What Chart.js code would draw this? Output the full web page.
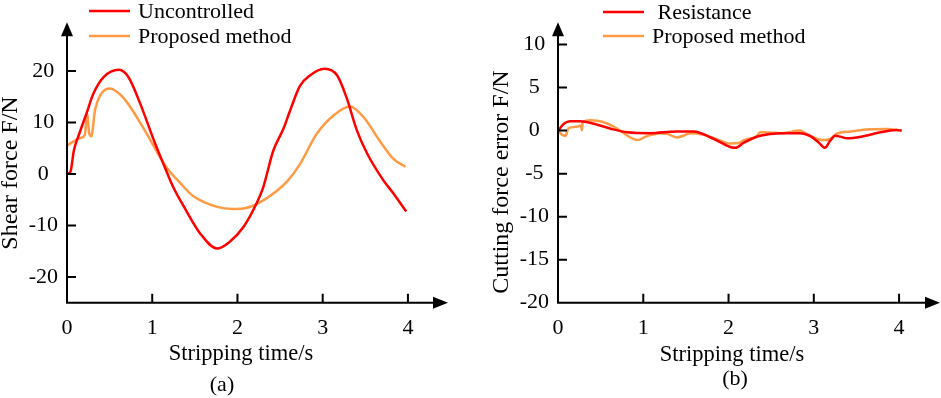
<!DOCTYPE html>
<html>
<head>
<meta charset="utf-8">
<script src="https://cdn.jsdelivr.net/npm/chart.js@4.4.0/dist/chart.umd.min.js"></script>
<style>
  html, body { margin: 0; padding: 0; background: #fff; width: 941px; height: 398px; overflow: hidden; }
  .painel { position: absolute; top: 0; height: 398px; }
  #pa { left: 0; width: 470px; }
  #pb { left: 470px; width: 471px; }
</style>
</head>
<body>
<div class="painel" id="pa"><canvas id="ga" width="470" height="398"></canvas></div>
<div class="painel" id="pb"><canvas id="gb" width="471" height="398"></canvas></div>
<script>
const FONTE = "'Liberation Serif', 'Times New Roman', serif";
const VERMELHO = '#ff0000';
const LARANJA = '#ff9a45';

// eixo x comum (s)
const TEMPO_TICKS = [0, 1, 2, 3, 4];

// (a) forca de cisalhamento
const CIS_Y_TICKS = [-20, -10, 0, 10, 20];
const semControleT = [0, 0.04, 0.08, 0.14, 0.23, 0.31, 0.43, 0.61, 0.72, 0.86, 1.02, 1.13, 1.25, 1.37, 1.56, 1.76, 1.9, 2.07, 2.23, 2.3, 2.42, 2.54, 2.62, 2.73, 2.85, 3.02, 3.17, 3.28, 3.4, 3.52, 3.71, 3.83, 3.98];
const semControleV = [0, 0.4, 4.5, 7.6, 11.8, 15.6, 18.8, 20.2, 18.8, 13.6, 6.5, 2, -2.7, -6.3, -11.5, -14.5, -13.3, -10.3, -5.5, -2.7, 4.5, 8.8, 12.4, 17, 19.1, 20.4, 19.1, 14.8, 8.5, 4, -1.2, -3.8, -7.3];
const propostoAT = [0, 0.08, 0.16, 0.21, 0.235, 0.26, 0.285, 0.33, 0.39, 0.5, 0.66, 0.9, 1.09, 1.17, 1.33, 1.48, 1.76, 1.95, 2.1, 2.23, 2.46, 2.58, 2.73, 2.93, 3.13, 3.32, 3.48, 3.67, 3.83, 3.97];
const propostoAV = [5.5, 6.3, 7, 7.6, 11.8, 8, 7.3, 12.5, 15.3, 16.6, 14.8, 8.8, 3.3, 1.2, -1.8, -4.3, -6.4, -6.8, -6.6, -5.8, -3.3, -1.5, 1.8, 7.8, 11.4, 13.1, 11, 6.4, 2.9, 1.4];

// (b) erro da forca de corte
const ERRO_Y_TICKS = [-20, -15, -10, -5, 0, 5, 10];
const resistenciaT = [0, 0.07, 0.14, 0.26, 0.42, 0.61, 0.81, 1.08, 1.39, 1.59, 1.79, 2.02, 2.08, 2.18, 2.37, 2.61, 2.84, 2.96, 3.06, 3.13, 3.19, 3.25, 3.31, 3.39, 3.58, 3.78, 3.97, 4.03];
const resistenciaV = [0, 0.8, 1.1, 1.1, 0.8, 0.25, -0.2, -0.3, -0.1, -0.1, -0.8, -1.9, -2.0, -1.4, -0.6, -0.3, -0.3, -0.65, -1.4, -2.0, -1.2, -0.6, -0.7, -0.9, -0.65, -0.2, 0.07, 0];
const propostoBT = [0, 0.05, 0.09, 0.12, 0.22, 0.27, 0.28, 0.29, 0.38, 0.53, 0.69, 0.85, 0.93, 1.04, 1.2, 1.28, 1.39, 1.47, 1.55, 1.71, 1.86, 2.02, 2.12, 2.18, 2.33, 2.37, 2.41, 2.61, 2.84, 2.88, 3.0, 3.11, 3.19, 3.27, 3.43, 3.66, 3.86, 4.03];
const propostoBV = [0, -0.5, -0.6, 0.25, 0.45, 0.6, 0.05, 1.0, 1.2, 1.0, 0.25, -0.8, -1.1, -0.65, -0.3, -0.36, -0.8, -0.6, -0.3, -0.47, -1.0, -1.5, -1.45, -1.1, -0.65, -0.2, -0.2, -0.3, 0, -0.2, -0.8, -1.1, -1.0, -0.36, -0.1, 0.15, 0.2, 0];

function pontos(ts, vs) { return ts.map((t, i) => ({ x: t, y: vs[i] })); }

// eixos com seta, ticks para dentro, legenda e titulos
const desenhoEixos = {
  id: 'desenhoEixos',
  afterDraw(chart, args, o) {
    const { ctx, chartArea: a, scales: { x, y } } = chart;
    const x0 = x.getPixelForValue(0), y0 = y.getPixelForValue(y.min);
    ctx.save();
    ctx.strokeStyle = '#000'; ctx.fillStyle = '#000'; ctx.lineWidth = 2;
    ctx.beginPath();
    ctx.moveTo(x0, y0); ctx.lineTo(x0, a.top + 12);
    ctx.moveTo(x0 - 1, y0); ctx.lineTo(a.right - 12, y0);
    ctx.stroke();
    ctx.beginPath(); ctx.moveTo(x0, a.top); ctx.lineTo(x0 - 6, a.top + 14); ctx.lineTo(x0 + 6, a.top + 14); ctx.closePath(); ctx.fill();
    ctx.beginPath(); ctx.moveTo(a.right, y0); ctx.lineTo(a.right - 15, y0 - 6); ctx.lineTo(a.right - 15, y0 + 6); ctx.closePath(); ctx.fill();
    ctx.beginPath();
    x.ticks.forEach(t => {
      if (t.value === 0) return;
      const px = x.getPixelForValue(t.value);
      ctx.moveTo(px, y0); ctx.lineTo(px, y0 - 9);
    });
    y.ticks.forEach(t => {
      if (t.value === y.min) return;
      const py = y.getPixelForValue(t.value);
      ctx.moveTo(x0, py); ctx.lineTo(x0 + 9, py);
    });
    ctx.stroke();

    // legenda
    ctx.lineWidth = 2.5;
    ctx.font = `22px ${FONTE}`;
    ctx.textBaseline = 'middle'; ctx.textAlign = 'left';
    chart.data.datasets.forEach((ds, i) => {
      const ly = o.legY[i];
      ctx.strokeStyle = ds.borderColor;
      ctx.beginPath(); ctx.moveTo(o.legX, ly); ctx.lineTo(o.legX + 41, ly); ctx.stroke();
      ctx.fillText(ds.label, o.legTx, ly + 1);
    });

    // titulos
    ctx.textAlign = 'center'; ctx.textBaseline = 'alphabetic';
    ctx.font = `22.5px ${FONTE}`;
    ctx.fillText('Stripping time/s', o.xTit[0], o.xTit[1]);
    ctx.font = `22px ${FONTE}`;
    ctx.fillText(o.letra, o.let[0], o.let[1]);
    ctx.save();
    ctx.translate(o.yTit[0], o.yTit[1]);
    ctx.rotate(-Math.PI / 2);
    ctx.font = `24px ${FONTE}`;
    ctx.textBaseline = 'middle';
    ctx.fillText(o.yTexto, 0, 0);
    ctx.restore();
    ctx.restore();
  }
};

function montar(id, cfg) {
  return new Chart(document.getElementById(id), {
    type: 'line',
    data: {
      datasets: cfg.series.map(s => ({
        label: s.label, data: pontos(s.t, s.v),
        borderColor: s.cor, backgroundColor: s.cor,
        borderWidth: 2.5, pointRadius: 0, fill: false,
        cubicInterpolationMode: 'monotone'
      }))
    },
    options: {
      responsive: false, animation: false,
      layout: { padding: { top: 3, right: cfg.padDir, left: 0, bottom: 0 } },
      plugins: { legend: { display: false }, tooltip: { enabled: false }, desenhoEixos: cfg.extras },
      scales: {
        x: {
          type: 'linear', min: 0, max: cfg.xMax,
          afterBuildTicks: s => { s.ticks = TEMPO_TICKS.map(v => ({ value: v })); },
          afterFit: s => { s.height = 95.3; },
          grid: { display: false, drawTicks: false }, border: { display: false },
          ticks: { color: '#000', font: { family: FONTE, size: 22 }, padding: 12, maxRotation: 0 }
        },
        y: {
          min: cfg.yMin, max: cfg.yMax,
          afterBuildTicks: s => { s.ticks = cfg.yTicks.map(v => ({ value: v })); },
          afterFit: s => { s.width = cfg.largY; },
          grid: { display: false, drawTicks: false }, border: { display: false },
          ticks: { color: '#000', font: { family: FONTE, size: 22 }, padding: 9, crossAlign: 'center' }
        }
      }
    },
    plugins: [desenhoEixos]
  });
}

montar('ga', {
  xMax: 4.47, yMin: -25, yMax: 29.45, yTicks: CIS_Y_TICKS, largY: 67, padDir: 22,
  series: [
    { label: 'Uncontrolled', t: semControleT, v: semControleV, cor: VERMELHO },
    { label: 'Proposed method', t: propostoAT, v: propostoAV, cor: LARANJA }
  ],
  extras: { legX: 89, legTx: 138, legY: [11, 36], xTit: [241, 360], letra: '(a)', let: [222, 391], yTit: [11, 173], yTexto: 'Shear force F/N' }
});

montar('gb', {
  xMax: 4.48, yMin: -20, yMax: 12.6, yTicks: ERRO_Y_TICKS, largY: 88, padDir: 1,
  series: [
    { label: ' Resistance', t: resistenciaT, v: resistenciaV, cor: VERMELHO },
    { label: 'Proposed method', t: propostoBT, v: propostoBV, cor: LARANJA }
  ],
  extras: { legX: 133, legTx: 182, legY: [12, 36], xTit: [262, 361], letra: '(b)', let: [265, 385], yTit: [32, 182], yTexto: 'Cutting force error F/N' }
});
</script>
</body>
</html>
